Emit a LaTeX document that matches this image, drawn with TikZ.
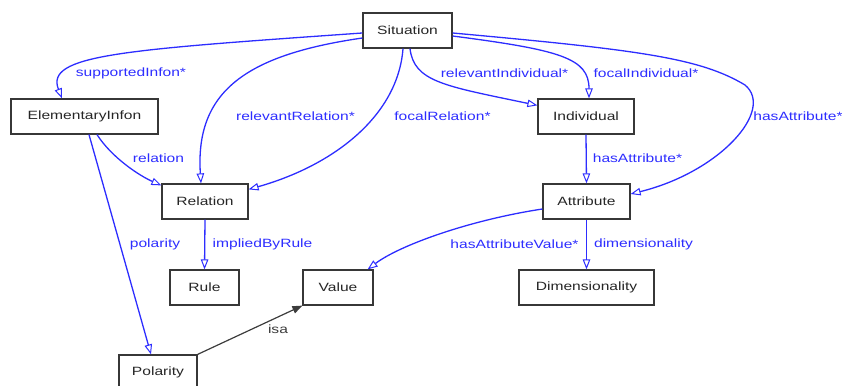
\documentclass[tikz,border=0pt]{standalone}
\usepackage{fontspec}
\setmainfont[FakeStretch=1.3]{Liberation Sans}
\usetikzlibrary{arrows.meta}
\definecolor{edgeblue}{RGB}{45,45,255}
\definecolor{boxgray}{RGB}{55,55,55}
\definecolor{isagray}{RGB}{60,60,60}
\tikzset{
  cls/.style={draw=boxgray, line width=1.2pt, fill=white, inner sep=0pt, minimum height=35pt, font=\fontsize{12}{14}\selectfont, text=black!85},
  rel/.style={draw=edgeblue, line width=1.3pt, -{Triangle[open, length=10pt, width=7.5pt, line width=1pt]}},
  isaedge/.style={draw=isagray, line width=1.2pt, -{Triangle[length=10pt, width=7.5pt]}},
  lbl/.style={text=edgeblue, inner sep=0pt, font=\fontsize{12}{14}\selectfont},
  isalbl/.style={text=isagray, inner sep=0pt, font=\fontsize{12}{14}\selectfont}
}
\begin{document}
\begin{tikzpicture}[x=1pt, y=-1pt]
\useasboundingbox (0,0) rectangle (842,385);
\clip (0,0) rectangle (842,385);
% nodes
\node[cls, minimum width=89pt] (sit) at (407.5,30.5) {Situation};
\node[cls, minimum width=147pt] (elem) at (84.5,116.5) {ElementaryInfon};
\node[cls, minimum width=86pt] (rel) at (205,201.5) {Relation};
\node[cls, minimum width=96pt] (ind) at (586,116.5) {Individual};
\node[cls, minimum width=87pt] (att) at (586.5,201.5) {Attribute};
\node[cls, minimum width=69pt] (rule) at (204.5,287.5) {Rule};
\node[cls, minimum width=70pt] (val) at (338,287.5) {Value};
\node[cls, minimum width=135pt] (dim) at (586.5,287.5) {Dimensionality};
\node[cls, minimum width=78pt] (pol) at (158,372.5) {Polarity};
% edges
\draw[rel] ([yshift=-2.5pt]sit.west) .. controls (120,50) and (45,55) .. ([xshift=-22.5pt]elem.north);
\draw[rel] ([yshift=-7.5pt]sit.west) .. controls (245,55) and (195,92) .. ([xshift=-4pt]rel.north);
\draw[rel] ([xshift=-4.5pt]sit.south) .. controls (398,115) and (335,165) .. ([yshift=-6pt]rel.north east);
\draw[rel] ([xshift=12.5pt]elem.south) .. controls (112,158) and (140,176) .. ([yshift=-2pt]rel.north west);
\draw[rel] ([xshift=4.5pt]elem.south) -- ([xshift=-7pt]pol.north);
\draw[rel] ([xshift=2.5pt]sit.south) .. controls (414,82) and (445,86) .. ([yshift=-7pt]ind.north west);
\draw[rel] ([yshift=-5.5pt]sit.east) .. controls (560,50) and (589,58) .. ([xshift=3pt]ind.north);
\draw[rel] ([yshift=-2.5pt]sit.east) .. controls (640,50) and (700,58) .. (745,85) .. controls (775,110) and (720,172) .. ([yshift=7.5pt]att.east);
\draw[rel] (ind.south) -- (att.north);
\draw[rel] ([yshift=-7.5pt]att.west) .. controls (470,220) and (400,245) .. ([xshift=-6pt]val.north east);
\draw[rel] (att.south) -- (dim.north);
\draw[rel] (rel.south) -- (rule.north);
\draw[isaedge] (pol.north east) -- (val.south west);
% labels
\node[lbl] (l1) at (131,73) {supportedInfon*};
\node[lbl] (l2) at (295.5,116) {relevantRelation*};
\node[lbl] (l3) at (442.5,116) {focalRelation*};
\node[lbl] (l4) at (158.5,158) {relation};
\node[lbl] (l5) at (504.5,73) {relevantIndividual*};
\node[lbl] (l6) at (646,73) {focalIndividual*};
\node[lbl] (l7) at (798,116) {hasAttribute*};
\node[lbl] (l8) at (637.5,158) {hasAttribute*};
\node[lbl] (l9) at (155,244) {polarity};
\node[lbl] (l10) at (262.5,244) {impliedByRule};
\node[lbl] (l11) at (514.5,244) {hasAttributeValue*};
\node[lbl] (l12) at (643.5,244) {dimensionality};
\node[isalbl] (l13) at (278,329) {isa};
\end{tikzpicture}
\end{document}
